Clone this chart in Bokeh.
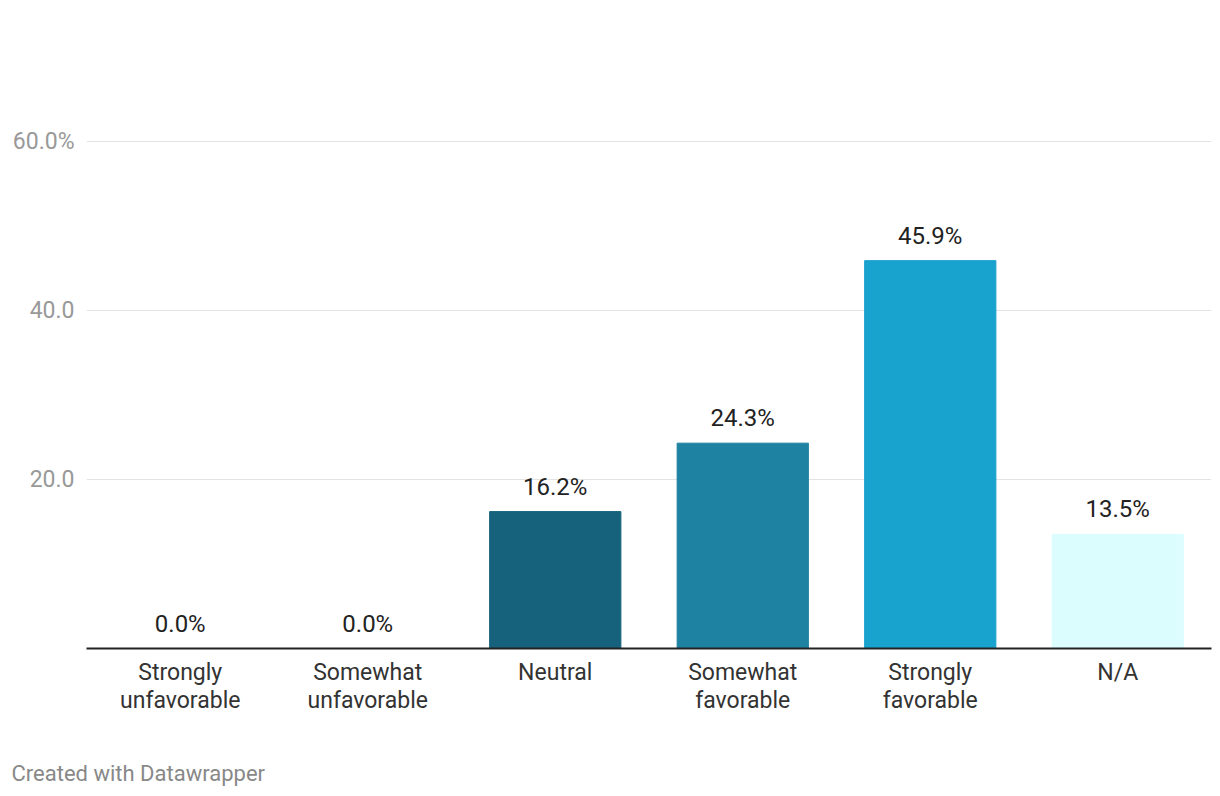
from bokeh.plotting import figure
from bokeh.models import ColumnDataSource, FixedTicker, FactorRange, Range1d, Title
from bokeh.core.properties import value
from bokeh.embed import file_html
from bokeh.resources import INLINE

# category labels as shown on the axis (two lines where wrapped)
categories = ["Strongly\nunfavorable", "Somewhat\nunfavorable", "Neutral",
              "Somewhat\nfavorable", "Strongly\nfavorable", "N/A"]
values = [0.0, 0.0, 16.2, 24.3, 45.9, 13.5]
bar_colors = ["#16627c", "#16627c", "#16627c", "#1e82a2", "#18a2ce", "#dcfdfe"]
y_ticks = [20, 40, 60]
y_tick_labels = ["20.0", "40.0", "60.0%"]

FONT = "Roboto"

src = ColumnDataSource(dict(
    cat=categories,
    val=values,
    color=bar_colors,
    label=[f"{v:.1f}%" for v in values],
))

p = figure(
    x_range=FactorRange(*categories, range_padding=0),
    y_range=Range1d(0, 71.95),
    frame_width=1125, frame_height=608,
    output_backend="svg", toolbar_location=None,
    min_border_left=86, min_border_right=1,
    min_border_top=40, min_border_bottom=4,
)
p.outline_line_color = None
p.background_fill_color = "white"
p.border_fill_color = "white"

p.vbar(x="cat", top="val", width=0.7, color="color", source=src)
p.text(x="cat", y="val", text="label", source=src,
       text_align="center", text_baseline="alphabetic", y_offset=-25,
       text_font=value(FONT), text_font_size="24px", text_color="#222222")

# grid
p.xgrid.grid_line_color = None
p.ygrid.ticker = FixedTicker(ticks=y_ticks)
p.ygrid.grid_line_color = "#e3e3e3"
p.ygrid.grid_line_width = 1

# y axis
p.yaxis.ticker = FixedTicker(ticks=y_ticks)
p.yaxis.major_label_overrides = {t: l for t, l in zip(y_ticks, y_tick_labels)}
p.yaxis.axis_line_color = None
p.yaxis.major_tick_line_color = None
p.yaxis.minor_tick_line_color = None
p.yaxis.major_label_standoff = 6
p.yaxis.major_label_text_font = FONT
p.yaxis.major_label_text_font_size = "23px"
p.yaxis.major_label_text_color = "#999999"

# x axis
xa = p.xaxis[0]
xa.axis_line_color = "#222222"
xa.axis_line_width = 2
xa.major_tick_line_color = None
xa.minor_tick_line_color = None
xa.major_label_standoff = 4
xa.major_label_text_font = FONT
xa.major_label_text_font_size = "23px"
xa.major_label_text_color = "#333333"
xa.major_label_text_line_height = 1.07

footer = Title(text="Created with Datawrapper", align="left", offset=-75,
               standoff=83, text_font=FONT, text_font_size="22px",
               text_font_style="normal", text_color="#888888")
p.add_layout(footer, "below")

open("out.html", "w").write(file_html(p, INLINE))
